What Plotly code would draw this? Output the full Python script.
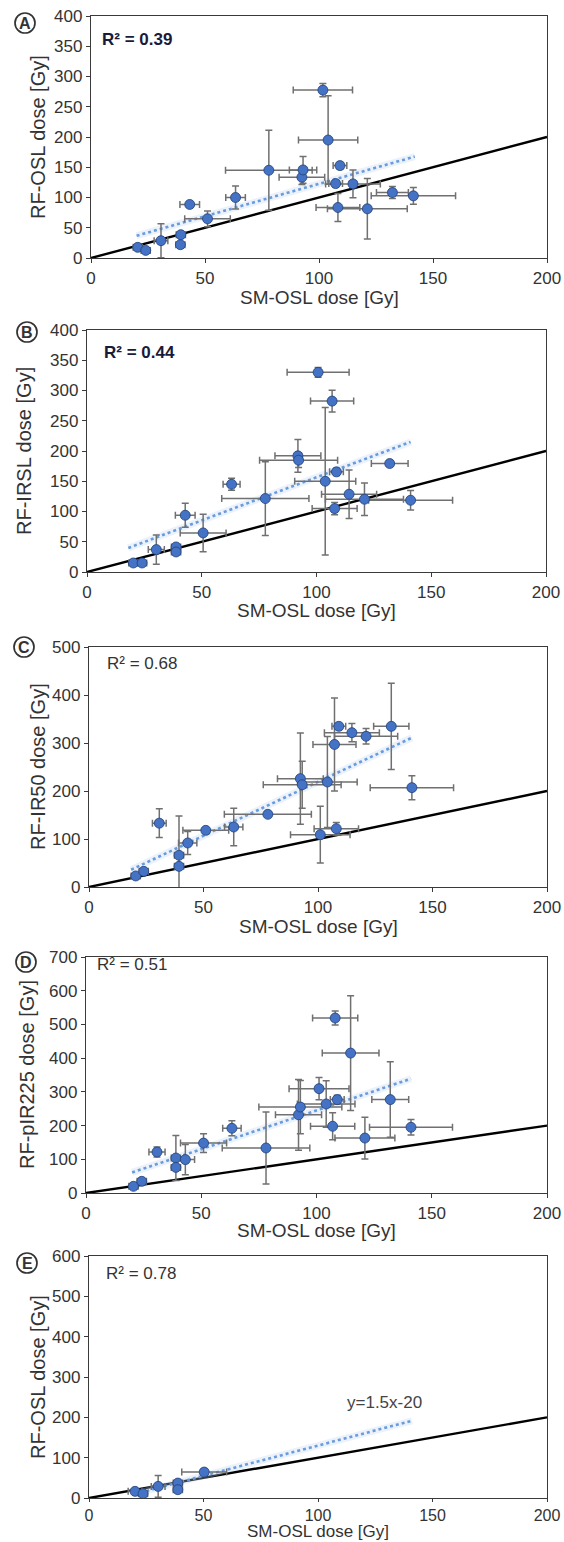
import plotly.graph_objects as go

W, H = 564, 1542
FONT = "Liberation Sans, Arial, sans-serif"

# ---------------- data ----------------
panel_labels = ["A", "B", "C", "D", "E"]
y_titles = ["RF-OSL dose [Gy]", "RF-IRSL dose [Gy]", "RF-IR50 dose [Gy]",
            "RF-pIR225 dose [Gy]", "RF-OSL dose [Gy]"]
x_title = "SM-OSL dose [Gy]"
r2_texts = ["R² = 0.39", "R² = 0.44", "R² = 0.68", "R² = 0.51", "R² = 0.78"]
y_max = [400, 400, 500, 700, 600]
y_dtick = [50, 50, 100, 100, 100]
x_ticks = [0, 50, 100, 150, 200]
one_to_one = [0, 200]

# Panel A
a_x = [20.5, 24, 30.7, 39.4, 39.2, 43.3, 51.1, 63.4, 78, 92.5, 93, 101.7, 104, 109.2, 107.3, 114.9, 108.3, 121.2, 132.2, 141.4]
a_y = [17.6, 12.6, 28.6, 38.5, 22, 88.5, 64.8, 100, 145, 133.5, 145.6, 277.5, 195, 152.7, 123, 122.5, 83.5, 81.3, 108.2, 102.7]
a_xerr = [2, 2, 3, 2, 2, 4.3, 10, 4.3, 19, 10, 6, 13, 13, 3, 3, 12, 9.6, 17.5, 7, 18.5]
a_yerr = [2, 2, 28, 3, 3, 5, 13, 19, 66, 12, 22, 11, 73, 5, 5, 23, 23, 50, 10, 14]
a_trend_x = [20, 142]
a_trend_y = [36.8, 167.6]

# Panel B
b_x = [20.2, 24, 30.2, 38.8, 38.8, 42.8, 50.6, 63, 77.7, 91.9, 92.2, 100.7, 106.8, 108.7, 103.8, 114.2, 107.9, 120.9, 131.9, 141]
b_y = [14.9, 14.9, 37, 41.4, 33.1, 93.8, 64.6, 145, 121.4, 192, 184.8, 330, 282.5, 165.5, 150, 128.6, 104.8, 120.3, 179.3, 118.6]
b_xerr = [2, 2, 3.5, 2, 2, 4.3, 10, 3.7, 19, 10, 17, 13.5, 9.4, 3, 13.3, 12, 9.8, 17, 8, 18.3]
b_yerr = [3, 3, 24, 4, 4, 20, 31, 10, 61, 27, 12, 8, 18, 6, 122, 40, 10, 27, 5, 16]
b_trend_x = [18, 141]
b_trend_y = [39.7, 215]

# Panel C
c_x = [20.4, 23.9, 30.7, 39.3, 39.3, 43.1, 51, 63.2, 78.1, 92.3, 93.1, 104.1, 101, 107.2, 109.1, 108, 114.8, 121, 132, 141]
c_y = [23, 32.6, 133, 43, 66, 91.7, 118, 125, 151.4, 225.7, 213, 218.8, 109, 297, 334.7, 121.5, 321.5, 314, 334.7, 207]
c_xerr = [2, 2, 3, 2, 2, 4, 10, 4, 19, 10, 17, 13, 13, 9.4, 3, 9.7, 12, 13.8, 7.7, 18.2]
c_yerr = [4, 4, 30, 5, 82, 24, 5, 39, 6, 95, 49, 95, 59, 97, 6, 13, 19, 16, 90, 25]
c_trend_x = [18.4, 141]
c_trend_y = [36, 311]

# Panel D
d_x = [20.6, 24.2, 30.8, 39, 39, 43.1, 51, 63.3, 78.1, 92.2, 93, 101.1, 104.2, 108.1, 109, 107, 114.8, 121, 132, 141]
d_y = [19.8, 34.6, 121.6, 103.8, 76, 99, 148, 192, 133.5, 232, 255, 309.5, 264, 519, 277, 198, 415, 163, 277, 195]
d_xerr = [2, 2, 3.5, 2, 2, 4, 10, 4, 19, 10, 18, 13, 12.5, 9.8, 3, 9.6, 12.3, 13, 8, 18]
d_yerr = [4, 6, 15, 67, 8, 45, 28, 22, 107, 105, 79, 33, 69, 21, 13, 40, 170, 62, 112, 23]
d_trend_x = [20, 141]
d_trend_y = [61, 339]

# Panel E
e_x = [20.1, 23.6, 30.2, 38.8, 38.8, 50.3]
e_y = [16.5, 10.7, 28.8, 37, 20.6, 64.3]
e_xerr = [3, 2, 3, 2, 2, 9.8]
e_yerr = [3, 3, 27, 4, 4, 8]
e_trend_x = [20, 141]
e_trend_y = [10, 191.5]
e_fit_label = "y=1.5x-20"

series = [
    (a_x, a_y, a_xerr, a_yerr, a_trend_x, a_trend_y),
    (b_x, b_y, b_xerr, b_yerr, b_trend_x, b_trend_y),
    (c_x, c_y, c_xerr, c_yerr, c_trend_x, c_trend_y),
    (d_x, d_y, d_xerr, d_yerr, d_trend_x, d_trend_y),
    (e_x, e_y, e_xerr, e_yerr, e_trend_x, e_trend_y),
]

# ---------------- layout geometry (page pixels) ----------------
frames = [  # left, right, top, bottom
    (91, 547, 16, 258),
    (87, 546, 330, 572),
    (89, 547, 647, 887),
    (86, 547, 957, 1193),
    (89, 547, 1256, 1498),
]
ytitle_x = [38, 24, 38, 27, 38]
xtitle_dy = [39, 39, 39, 37, 33]
xtitle_size = [19, 19, 19, 19, 17]
xtick_size = [17, 17, 17, 17, 16]
xtick_len = [4, 4, 4, 4, 3]
badge_pos = [(25, 23), (27, 332), (24, 647), (26, 962), (27, 1263)]
r2_pos = [(100, 39), (102, 353), (105, 663), (95, 964), (104, 1273)]
r2_bold = [True, True, False, False, False]


def px(x):
    return x / W


def py(y):
    return 1 - y / H


fig = go.Figure()
layout = dict(
    width=W, height=H, autosize=False,
    margin=dict(l=0, r=0, t=0, b=0),
    paper_bgcolor="white", plot_bgcolor="white",
    showlegend=False,
    font=dict(family=FONT, color="#333333"),
)
annotations = []
shapes = []

MARKER_COLOR = "#4472c4"
TREND_COLOR = "#6a9bdc"

for i, (xs, ys, xe, ye, tx, ty) in enumerate(series):
    n = i + 1
    xa = "x" if n == 1 else f"x{n}"
    ya = "y" if n == 1 else f"y{n}"
    l, r, t, b = frames[i]

    # identity line
    fig.add_trace(go.Scatter(x=one_to_one, y=one_to_one, mode="lines",
                             line=dict(color="black", width=2.4),
                             xaxis=xa, yaxis=ya, hoverinfo="skip"))
    # trend glow + dotted trend
    fig.add_trace(go.Scatter(x=tx, y=ty, mode="lines",
                             line=dict(color="rgba(190,213,243,0.3)", width=7),
                             xaxis=xa, yaxis=ya, hoverinfo="skip"))
    fig.add_trace(go.Scatter(x=tx, y=ty, mode="lines",
                             line=dict(color=TREND_COLOR, width=2.6, dash="dot"),
                             xaxis=xa, yaxis=ya, hoverinfo="skip"))
    # data with error bars
    fig.add_trace(go.Scatter(
        x=xs, y=ys, mode="markers",
        marker=dict(size=10, color=MARKER_COLOR, line=dict(color="#22407a", width=0.8)),
        error_x=dict(type="data", array=xe, visible=True, color="#707070", thickness=1.5, width=3.5),
        error_y=dict(type="data", array=ye, visible=True, color="#707070", thickness=1.5, width=3.5),
        xaxis=xa, yaxis=ya))

    ax_common = dict(showgrid=False, zeroline=False, showline=True, linecolor="#3a3a3a",
                     linewidth=1.4, mirror=True, ticks="outside", ticklen=4, tickwidth=1.2,
                     tickcolor="#3a3a3a", tickfont=dict(family=FONT, size=17, color="#333333"),
                     ticklabeloverflow="allow", automargin=False, fixedrange=True)
    layout["xaxis" if n == 1 else f"xaxis{n}"] = dict(
        ax_common, domain=[px(l), px(r)], range=[0, 200], tickvals=x_ticks,
        anchor=ya, ticklen=xtick_len[i],
        tickfont=dict(family=FONT, size=xtick_size[i], color="#333333"))
    layout["yaxis" if n == 1 else f"yaxis{n}"] = dict(
        ax_common, domain=[py(b), py(t)], range=[0, y_max[i]], dtick=y_dtick[i],
        tick0=0, anchor=xa)

    # axis titles
    annotations.append(dict(text=y_titles[i], x=px(ytitle_x[i]), y=py((t + b) / 2),
                            xref="paper", yref="paper", textangle=-90, showarrow=False,
                            xanchor="center", yanchor="middle",
                            font=dict(family=FONT, size=20, color="#333333")))
    annotations.append(dict(text=x_title, x=px((l + r) / 2), y=py(b + xtitle_dy[i]),
                            xref="paper", yref="paper", showarrow=False,
                            xanchor="center", yanchor="middle", borderpad=0,
                            font=dict(family=FONT, size=xtitle_size[i], color="#333333")))
    # R² text
    rx, ry = r2_pos[i]
    txt = f"<b>{r2_texts[i]}</b>" if r2_bold[i] else r2_texts[i]
    annotations.append(dict(text=txt, x=px(rx), y=py(ry), xref="paper", yref="paper",
                            showarrow=False, xanchor="left", yanchor="middle",
                            font=dict(family=FONT, size=17,
                                      color="#1a1a3a" if r2_bold[i] else "#333333")))
    # circled panel letter
    cx, cy = badge_pos[i]
    rad = 10
    shapes.append(dict(type="circle", xref="paper", yref="paper",
                       x0=px(cx - rad), x1=px(cx + rad), y0=py(cy + rad), y1=py(cy - rad),
                       line=dict(color="#333333", width=1.7), fillcolor="rgba(0,0,0,0)"))
    annotations.append(dict(text=f"<b>{panel_labels[i]}</b>", x=px(cx), y=py(cy + 0.5),
                            xref="paper", yref="paper", showarrow=False,
                            xanchor="center", yanchor="middle",
                            font=dict(family=FONT, size=16, color="#333333")))

# fit equation label in panel E
annotations.append(dict(text=e_fit_label, x=112, y=208, xref="x5", yref="y5",
                        showarrow=False, xanchor="left", yanchor="bottom",
                        font=dict(family=FONT, size=17, color="#444444")))

layout["annotations"] = annotations
layout["shapes"] = shapes
fig.update_layout(**layout)

# remove the browser's default 8px body margin so the figure fills the window
fig.write_html("out.html",
               config={"displayModeBar": False},
               post_script="document.body.style.margin='0';"
                           "document.documentElement.style.overflow='hidden';")
